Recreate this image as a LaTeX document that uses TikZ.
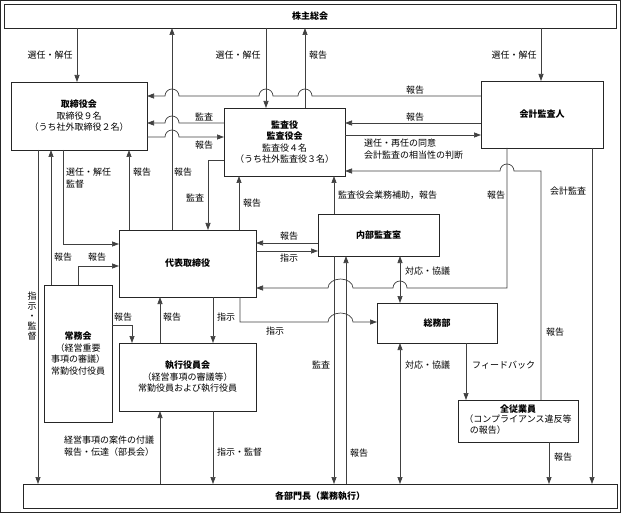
\documentclass[tikz,border=0pt]{standalone}
\usepackage{fontspec}
\setmainfont{Noto Sans CJK JP}
\usetikzlibrary{arrows.meta}
\newcommand\fs{\fontsize{9}{11.5}\selectfont}
\tikzset{
  box/.style={draw=black!85, line width=0.7pt, fill=white, inner sep=1pt, outer sep=0pt, align=center, font=\fs},
  conn/.style={draw=black!75, line width=0.7pt},
  arr/.style={conn, -{Triangle[length=7pt,width=5pt]}},
  biarr/.style={conn, {Triangle[length=7pt,width=5pt]}-{Triangle[length=7pt,width=5pt]}},
  lbl/.style={font=\fs, inner sep=0pt, align=left},
}
\begin{document}
\begin{tikzpicture}[x=1pt,y=-1pt]
\useasboundingbox (0,0) rectangle (621,513);
\draw[black!85, line width=0.7pt] (0.5,0.5) rectangle (620.3,512.3);
% boxes
\node[box, minimum width=612pt, minimum height=24pt] (kabunushi) at (310,16) {\bfseries 株主総会};
\node[box, minimum width=136pt, minimum height=68pt] (torishimari) at (79,116) {{\bfseries 取締役会}\\取締役９名\\（うち社外取締役２名）};
\node[box, minimum width=121pt, minimum height=68pt] (kansayaku) at (284.5,142) {{\bfseries 監査役}\\{\bfseries 監査役会}\\監査役４名\\（うち社外監査役３名）};
\node[box, minimum width=122pt, minimum height=67pt] (kaikei) at (542,114.5) {\bfseries 会計監査人};
\node[box, minimum width=137pt, minimum height=67pt] (daihyo) at (187.5,263.5) {\bfseries 代表取締役};
\node[box, minimum width=121pt, minimum height=42pt] (naibu) at (378.5,235) {\bfseries 内部監査室};
\node[box, minimum width=120pt, minimum height=40pt] (somu) at (437,323) {\bfseries 総務部};
\node[box, minimum width=68pt, minimum height=137pt] (jomu) at (78,353.5) {{\bfseries 常務会}\\（経営重要\\事項の審議）\\常勤役付役員};
\node[box, minimum width=137pt, minimum height=68pt] (shikko) at (187.5,377) {{\bfseries 執行役員会}\\（経営事項の審議等）\\常勤役員および執行役員};
\node[box, minimum width=120pt, minimum height=42pt] (jugyoin) at (518,421) {{\bfseries 全従業員}\\\begin{tabular}{@{}l@{}}（コンプライアンス違反等\\\hspace*{0.6em}の報告）\end{tabular}};
\node[box, minimum width=594pt, minimum height=24pt] (kakubu) at (320,496) {\bfseries 各部門長（業務執行）};
% shareholders
\draw[arr] (kabunushi.south -| 77,0) -- (torishimari.north -| 77,0);
\node[lbl] (l1) at (50,55) {選任・解任};
\draw[arr] (daihyo.north -| 172,0) -- (kabunushi.south -| 172,0);
\node[lbl] (l2) at (183,172) {報告};
\draw[arr] (daihyo.north -| 129,0) -- (torishimari.south -| 129,0);
\node[lbl] (l3) at (142,172) {報告};
\draw[arr] (kabunushi.south -| 266,0) -- (kansayaku.north -| 266,0);
\node[lbl] (l4) at (238,55) {選任・解任};
\draw[arr] (kansayaku.north -| 305,0) -- (kabunushi.south -| 305,0);
\node[lbl] (l5) at (318,55) {報告};
\draw[arr] (kabunushi.south -| 541,0) -- (kaikei.north -| 541,0);
\node[lbl] (l6) at (514,55) {選任・解任};
% board and auditors
\draw[arr] (kaikei.west |- 0,96) -- (312,96) arc[start angle=0,end angle=180,radius=7pt] -- (273,96) arc[start angle=0,end angle=180,radius=7pt] -- (179,96) arc[start angle=0,end angle=180,radius=7pt] -- (torishimari.east |- 0,96);
\node[lbl] (l7) at (415,90) {報告};
\draw[arr] (kansayaku.west |- 0,123) -- (179,123) arc[start angle=0,end angle=180,radius=7pt] -- (torishimari.east |- 0,123);
\node[lbl] (l8) at (204,117) {監査};
\draw[arr] (torishimari.east |- 0,137) -- (165,137) arc[start angle=180,end angle=0,radius=7pt] -- (kansayaku.west |- 0,137);
\node[lbl] (l9) at (204,145) {報告};
\draw[arr] (kaikei.west |- 0,123) -- (kansayaku.east |- 0,123);
\node[lbl] (l10) at (415,117) {報告};
\draw[arr] (kansayaku.east |- 0,135) -- (kaikei.west |- 0,135);
\node[lbl, anchor=west] (l11) at (364,149) {選任・再任の同意\\会計監査の相当性の判断};
\draw[arr] (jugyoin.north -| 541,0) -- (541,171) -- (514,171) arc[start angle=0,end angle=180,radius=7pt] -- (kansayaku.east |- 0,171);
\node[lbl] (l12) at (555,332) {報告};
\draw[arr] (kaikei.south -| 507,0) -- (507,288) -- (407,288) arc[start angle=0,end angle=180,radius=7pt] -- (353,288) arc[start angle=0,end angle=180,x radius=12.5pt,y radius=9pt] -- (daihyo.east |- 0,288);
\node[lbl] (l13) at (496,195) {報告};
\draw[arr] (kaikei.south -| 592,0) -- (kakubu.north -| 592,0);
\node[lbl] (l14) at (568,191) {会計監査};
% representative director
\draw[arr] (kansayaku.west |- 0,160) -- (208,160) -- (daihyo.north -| 208,0);
\node[lbl] (l15) at (195,198) {監査};
\draw[arr] (daihyo.north -| 239,0) -- (kansayaku.south -| 239,0);
\node[lbl] (l16) at (252,203) {報告};
\draw[arr] (naibu.north -| 334,0) -- (kansayaku.south -| 334,0);
\node[lbl, anchor=west] (l17) at (338,195) {監査役会業務補助，報告};
\draw[arr] (naibu.west |- 0,243) -- (daihyo.east |- 0,243);
\node[lbl] (l18) at (289,236) {報告};
\draw[arr] (daihyo.east |- 0,251) -- (naibu.west |- 0,251);
\node[lbl] (l19) at (289,258) {指示};
\draw[arr] (torishimari.south -| 63,0) -- (63,244) -- (daihyo.west |- 0,244);
\node[lbl, anchor=west] (l20) at (66,178) {選任・解任\\監督};
\draw[arr] (jomu.north -| 51,0) -- (torishimari.south -| 51,0);
\node[lbl] (l21) at (63,257) {報告};
\draw[arr] (jomu.north -| 78,0) -- (78,266) -- (daihyo.west |- 0,266);
\node[lbl] (l22) at (97,257) {報告};
\draw[arr] (torishimari.south -| 38,0) -- (kakubu.north -| 38,0);
\node[lbl, align=center, font=\fontsize{9}{10}\selectfont] (l23) at (32,316) {指\\示\\・\\監\\督};
% executive committee
\draw[arr] (jomu.east |- 0,325) -- (132,325) -- (shikko.north -| 132,0);
\node[lbl] (l24) at (123,317) {報告};
\draw[arr] (shikko.north -| 160,0) -- (daihyo.south -| 160,0);
\node[lbl] (l25) at (172,317) {報告};
\draw[arr] (daihyo.south -| 213,0) -- (shikko.north -| 213,0);
\node[lbl] (l26) at (226,317) {指示};
\draw[arr] (daihyo.south -| 240,0) -- (240,322) -- (328,322) arc[start angle=180,end angle=0,x radius=12.5pt,y radius=9pt] -- (somu.west |- 0,322);
\node[lbl] (l27) at (275,331) {指示};
% internal audit, general affairs
\draw[arr] (naibu.south -| 334,0) -- (kakubu.north -| 334,0);
\node[lbl] (l28) at (321,365) {監査};
\draw[arr] (kakubu.north -| 346,0) -- (naibu.south -| 346,0);
\node[lbl] (l29) at (359,453) {報告};
\draw[biarr] (naibu.south -| 400,0) -- (somu.north -| 400,0);
\node[lbl, anchor=west] (l30) at (405,271) {対応・協議};
\draw[biarr] (somu.south -| 400,0) -- (kakubu.north -| 400,0);
\node[lbl, anchor=west] (l31) at (405,365) {対応・協議};
\draw[arr] (somu.south -| 466,0) -- (jugyoin.north -| 466,0);
\node[lbl, anchor=west] (l32) at (472,365) {フィードバック};
\draw[arr] (jugyoin.south -| 549,0) -- (kakubu.north -| 549,0);
\node[lbl] (l33) at (563,457) {報告};
% department heads
\draw[arr] (kakubu.north -| 160,0) -- (shikko.south -| 160,0);
\node[lbl, anchor=west] (l34) at (64,446) {経営事項の案件の付議\\報告・伝達（部長会）};
\draw[arr] (shikko.south -| 213,0) -- (kakubu.north -| 213,0);
\node[lbl, anchor=west] (l35) at (217,452) {指示・監督};
\end{tikzpicture}
\end{document}
